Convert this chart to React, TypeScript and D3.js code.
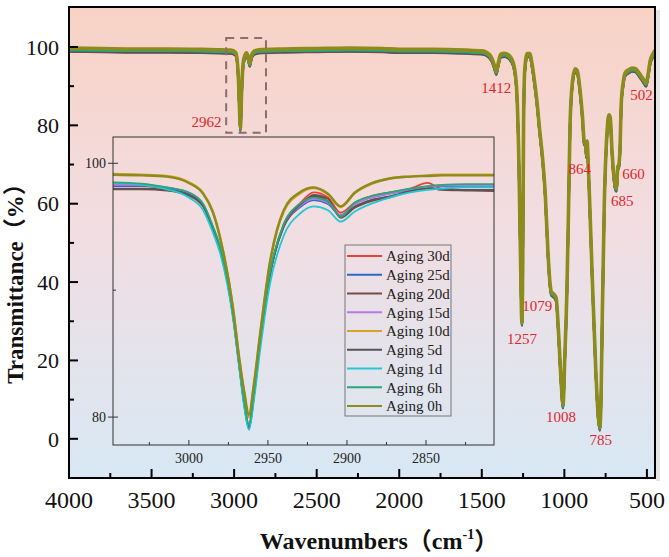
import React from 'react';
import * as d3 from 'd3';

// legend order (also the drawing order, 0h ends on top)
const seriesNames = ['Aging 30d', 'Aging 25d', 'Aging 20d', 'Aging 15d', 'Aging 10d', 'Aging 5d', 'Aging 1d', 'Aging 6h', 'Aging 0h'];
const seriesColors = ['#e8423c', '#2f66c9', '#7b4a48', '#b57ae6', '#d6a326', '#565656', '#22c9d3', '#27a877', '#8c8b1c'];

// full spectrum of the 0h sample
const mainWn = [
  4000, 3800, 3600, 3400, 3200, 3100, 3020, 2990, 2975, 2968, 2962, 2955, 2945, 2935, 2925, 2915, 2905, 2895, 2880, 2850,
  2700, 2500, 2300, 2100, 2000, 1800, 1600, 1500, 1470, 1440, 1425, 1412, 1400, 1385, 1365, 1340, 1310, 1290, 1275, 1265,
  1257, 1252, 1247, 1240, 1225, 1210, 1195, 1180, 1165, 1150, 1135, 1115, 1099, 1085, 1079, 1065, 1050, 1035, 1020, 1008,
  998, 984, 975, 965, 950, 935, 922, 905, 890, 880, 872, 866, 862, 858, 848, 830, 810, 795, 785, 778,
  770, 758, 742, 730, 722, 712, 700, 690, 684, 676, 670, 664, 655, 645, 632, 610, 590, 570, 550, 525,
  505, 495, 480, 460, 451,
];
const mainT = [
  99.7, 99.6, 99.5, 99.5, 99.4, 99.3, 99.2, 98.6, 93, 85, 79.3, 88, 96, 97.8, 98.5, 97.5, 95.9, 97.8, 98.9, 99.3,
  99.5, 99.6, 99.7, 99.6, 99.4, 99.4, 99.2, 99.0, 98.6, 97.2, 95.5, 93.8, 96, 98.2, 98.4, 98, 96, 90, 70, 45,
  29.8, 45, 80, 94, 98.3, 98.3, 95.5, 91, 85.7, 79, 73, 62, 47.4, 39, 37.5, 37, 36, 27, 15, 8.7,
  20, 38.8, 58, 81, 91.5, 94.4, 94, 89, 82, 76, 75.5, 72.5, 76, 73, 62, 40, 18, 6, 3.0, 10,
  32, 60, 78, 82.7, 82, 74, 67, 64.3, 64, 69.5, 70, 73, 86, 90.5, 93.4, 94.2, 94.6, 94.5, 93.5, 92,
  90.8, 92.5, 96.5, 98.5, 99.2,
];
// baseline level of each sample relative to 0h
const mainShift = [-0.5, -0.6, -0.9, -0.6, -0.1, -0.8, -0.4, -0.5, 0];

// zoomed C-H region
const insetWn = [3048, 3030, 3014, 3000, 2991, 2985, 2980, 2972, 2968, 2965, 2962, 2959, 2955, 2949, 2940, 2930, 2921, 2912, 2904, 2895, 2885, 2873, 2860, 2849, 2840, 2825, 2807];
const inset30d = [98.2, 98.2, 98.0, 97.6, 96.7, 95.0, 93.2, 88.0, 84.0, 81.2, 79.3, 81.8, 86.0, 91.2, 95.2, 96.8, 97.7, 97.3, 96.1, 96.9, 97.4, 97.7, 98.0, 98.45, 98.0, 98.15, 98.2];
const inset25d = [98.2, 98.25, 98.05, 97.65, 96.75, 95.0, 93.2, 88.0, 84.0, 81.2, 79.2, 81.6, 85.8, 91.0, 95.0, 96.5, 97.1, 96.8, 95.9, 96.8, 97.3, 97.6, 97.9, 98.1, 98.2, 98.2, 98.2];
const inset20d = [97.95, 97.95, 97.85, 97.45, 96.6, 94.9, 93.1, 87.9, 83.9, 81.0, 79.1, 81.5, 85.7, 91.0, 95.0, 96.6, 97.5, 97.2, 95.7, 96.5, 97.0, 97.3, 97.8, 98.05, 97.9, 97.85, 97.8];
const inset15d = [98.3, 98.3, 98.1, 97.7, 96.8, 95.05, 93.25, 88.05, 84.05, 81.2, 79.3, 81.7, 85.9, 91.1, 95.1, 96.6, 97.2, 96.9, 95.9, 96.8, 97.3, 97.6, 97.95, 98.15, 98.25, 98.25, 98.25];
const inset10d = [99.15, 99.1, 99.0, 98.5, 97.65, 96.25, 94.0, 88.5, 84.4, 81.9, 80.0, 82.3, 86.4, 91.9, 96.2, 97.6, 98.05, 97.55, 96.55, 97.65, 98.35, 98.8, 98.95, 99.05, 99.1, 99.1, 99.1];
const inset5d = [98.0, 98.0, 97.9, 97.5, 96.65, 94.95, 93.1, 87.9, 83.9, 81.0, 79.15, 81.5, 85.7, 91.0, 95.1, 96.7, 97.4, 97.0, 95.8, 96.6, 97.1, 97.4, 97.8, 98.0, 97.95, 97.9, 97.9];
const inset1d = [98.45, 98.3, 97.95, 97.3, 96.3, 94.6, 92.8, 87.7, 83.7, 80.8, 79.0, 81.2, 85.2, 90.3, 94.3, 96.0, 96.6, 96.3, 95.4, 96.2, 96.8, 97.3, 97.7, 97.9, 98.0, 98.1, 98.1];
const inset6h = [98.5, 98.4, 98.1, 97.7, 96.8, 95.1, 93.3, 88.1, 84.1, 81.3, 79.4, 81.8, 86.0, 91.2, 95.2, 96.8, 97.3, 97.0, 95.8, 96.9, 97.4, 97.7, 98.0, 98.2, 98.3, 98.35, 98.35];
const inset0h = [99.1, 99.05, 98.95, 98.45, 97.6, 96.2, 94.0, 88.5, 84.5, 82.0, 80.2, 82.5, 86.5, 92.0, 96.3, 97.7, 98.1, 97.6, 96.6, 97.7, 98.4, 98.8, 98.95, 99.0, 99.05, 99.05, 99.05];
const insetSeries = [inset30d, inset25d, inset20d, inset15d, inset10d, inset5d, inset1d, inset6h, inset0h];

// assigned bands: wavenumber and transmittance at the band
const peakWn = [2962, 1412, 502, 864, 660, 685, 1079, 1257, 1008, 785];
const peakT = [79.3, 93.8, 90.8, 72.5, 70, 64.3, 37.5, 29.8, 8.7, 3.0];
const peakDx = [-34, 0, -5, -7, 13, 6, -14, 0, -2, 1];
const peakDy = [-1, 22, 17, 19, 14, 19, 19, 22, 17, 18];

const xTicks = [4000, 3500, 3000, 2500, 2000, 1500, 1000, 500];
const xMinor = [3750, 3250, 2750, 2250, 1750, 1250, 750];
const yTicks = [0, 20, 40, 60, 80, 100];
const yMinor = [10, 30, 50, 70, 90];
const insetXTicks = [3000, 2950, 2900, 2850];
const insetXMinor = [3025, 2975, 2925, 2875, 2825];
const insetYTicks = [80, 100];
const insetYMinor = [90];

const serif = "'Liberation Serif', 'DejaVu Serif', 'Noto Sans CJK SC', serif";

const App = () => {
  const W = 669;
  const H = 557;
  const pl = 69, pr = 655, pt = 7, pb = 478;
  const il = 113, ir = 494, it = 137, ib = 445;

  const x = d3.scaleLinear().domain([4000, 451]).range([pl, pr]);
  const y = d3.scaleLinear().domain([-10, 110.2]).range([pb, pt]);
  const ix = d3.scaleLinear().domain([3048, 2807]).range([il, ir]);
  const iy = d3.scaleLinear().domain([77.8, 102.07]).range([ib, it]);

  const mainLine = (shift: number) =>
    d3.line<number>()
      .x((_, i) => x(mainWn[i]))
      .y((d) => y(d + shift))
      .curve(d3.curveMonotoneX)(mainT) as string;

  const insetLine = d3.line<number>()
    .x((_, i) => ix(insetWn[i]))
    .y((d) => iy(d))
    .curve(d3.curveMonotoneX);

  // dashed box marks the stretch shown in the inset
  const boxL = x(3048), boxR = x(2807), boxT = y(102.3), boxB = y(78.1);

  return (
    <svg width={W} height={H} style={{ display: 'block', fontFamily: serif }}>
      <style>{`body{margin:0}`}</style>
      <defs>
        <linearGradient id="bg" x1="0" y1="0" x2="0" y2="1">
          <stop offset="0%" stopColor="#f8d2c5" />
          <stop offset="45%" stopColor="#f2dde1" />
          <stop offset="100%" stopColor="#d8e8f4" />
        </linearGradient>
        <clipPath id="mainClip">
          <rect x={pl} y={pt} width={pr - pl} height={pb - pt} />
        </clipPath>
        <clipPath id="insetClip">
          <rect x={il} y={it} width={ir - il} height={ib - it} />
        </clipPath>
      </defs>

      <rect x={0} y={0} width={W} height={H} fill="#fff" />
      <rect x={pr + 1} y={pt + 3} width={4} height={pb - pt} fill="#d9d9d9" opacity={0.7} />
      <rect x={pl} y={pt} width={pr - pl} height={pb - pt} fill="url(#bg)" />

      {/* main spectra */}
      <g clipPath="url(#mainClip)" fill="none" strokeLinejoin="round">
        {seriesNames.map((name, k) => (
          <path key={name} d={mainLine(mainShift[k])} stroke={seriesColors[k]}
            strokeWidth={k === 8 ? 3.6 : 2.4} />
        ))}
      </g>

      <rect x={boxL} y={boxT} width={boxR - boxL} height={boxB - boxT} fill="none"
        stroke="#8b6d6c" strokeWidth={2} strokeDasharray="8,6" />

      {/* band labels */}
      {peakWn.map((wn, k) => (
        <text key={wn} x={x(wn) + peakDx[k]} y={y(peakT[k]) + peakDy[k]} textAnchor="middle"
          fontSize={15} fill="#e3242b">{wn}</text>
      ))}

      {/* inset */}
      <g clipPath="url(#insetClip)" fill="none" strokeLinejoin="round">
        {insetSeries.map((vals, k) => (
          <path key={k} d={insetLine(vals) as string} stroke={seriesColors[k]}
            strokeWidth={k === 8 || k === 4 ? 2.4 : 1.8} />
        ))}
      </g>
      <rect x={il} y={it} width={ir - il} height={ib - it} fill="none" stroke="#333" strokeWidth={1} />
      {insetXTicks.map((t) => (
        <g key={t}>
          <line x1={ix(t)} x2={ix(t)} y1={ib} y2={ib - 5} stroke="#333" />
          <text x={ix(t)} y={ib + 18} textAnchor="middle" fontSize={14} fill="#222">{t}</text>
        </g>
      ))}
      {insetXMinor.map((t) => (
        <line key={t} x1={ix(t)} x2={ix(t)} y1={ib} y2={ib - 3} stroke="#333" />
      ))}
      {insetYTicks.map((t) => (
        <g key={t}>
          <line x1={il - 5} x2={il + 5} y1={iy(t)} y2={iy(t)} stroke="#333" />
          <text x={il - 7} y={iy(t)} dy="0.35em" textAnchor="end" fontSize={14} fill="#222">{t}</text>
        </g>
      ))}
      {insetYMinor.map((t) => (
        <line key={t} x1={il} x2={il + 3} y1={iy(t)} y2={iy(t)} stroke="#333" />
      ))}

      {/* legend */}
      <rect x={345} y={245} width={106} height={171} fill="none" stroke="#777" strokeWidth={1} />
      {seriesNames.map((name, k) => (
        <g key={name} transform={`translate(347, ${256 + k * 18.75})`}>
          <line x1={0} x2={35} y1={0} y2={0} stroke={seriesColors[k]} strokeWidth={2} />
          <text x={39} y={0} dy="0.35em" fontSize={15} fill="#222">{name}</text>
        </g>
      ))}

      {/* main frame and axes */}
      <rect x={pl} y={pt} width={pr - pl} height={pb - pt} fill="none" stroke="#000" strokeWidth={2} />
      {xTicks.map((t) => (
        <g key={t}>
          <line x1={x(t)} x2={x(t)} y1={pb} y2={pb - 9} stroke="#000" strokeWidth={2} />
          <text x={x(t)} y={pb + 30} textAnchor="middle" fontSize={24} fill="#111">{t}</text>
        </g>
      ))}
      {xMinor.map((t) => (
        <line key={t} x1={x(t)} x2={x(t)} y1={pb} y2={pb - 5} stroke="#000" strokeWidth={2} />
      ))}
      {yTicks.map((t) => (
        <g key={t}>
          <line x1={pl} x2={pl + 9} y1={y(t)} y2={y(t)} stroke="#000" strokeWidth={2} />
          <text x={pl - 10} y={y(t)} dy="0.35em" textAnchor="end" fontSize={22} fill="#111">{t}</text>
        </g>
      ))}
      {yMinor.map((t) => (
        <line key={t} x1={pl} x2={pl + 5} y1={y(t)} y2={y(t)} stroke="#000" strokeWidth={2} />
      ))}

      <text transform={`translate(23, 278) rotate(-90)`} textAnchor="middle"
        fontSize={23} fontWeight="bold" fill="#111">Transmittance（%）</text>
      <text x={379} y={549} textAnchor="middle" fontSize={24} fontWeight="bold" fill="#111">
        Wavenumbers（cm<tspan fontSize={14} dy={-10}>-1</tspan><tspan dy={10}>）</tspan>
      </text>
    </svg>
  );
};

export default App;
